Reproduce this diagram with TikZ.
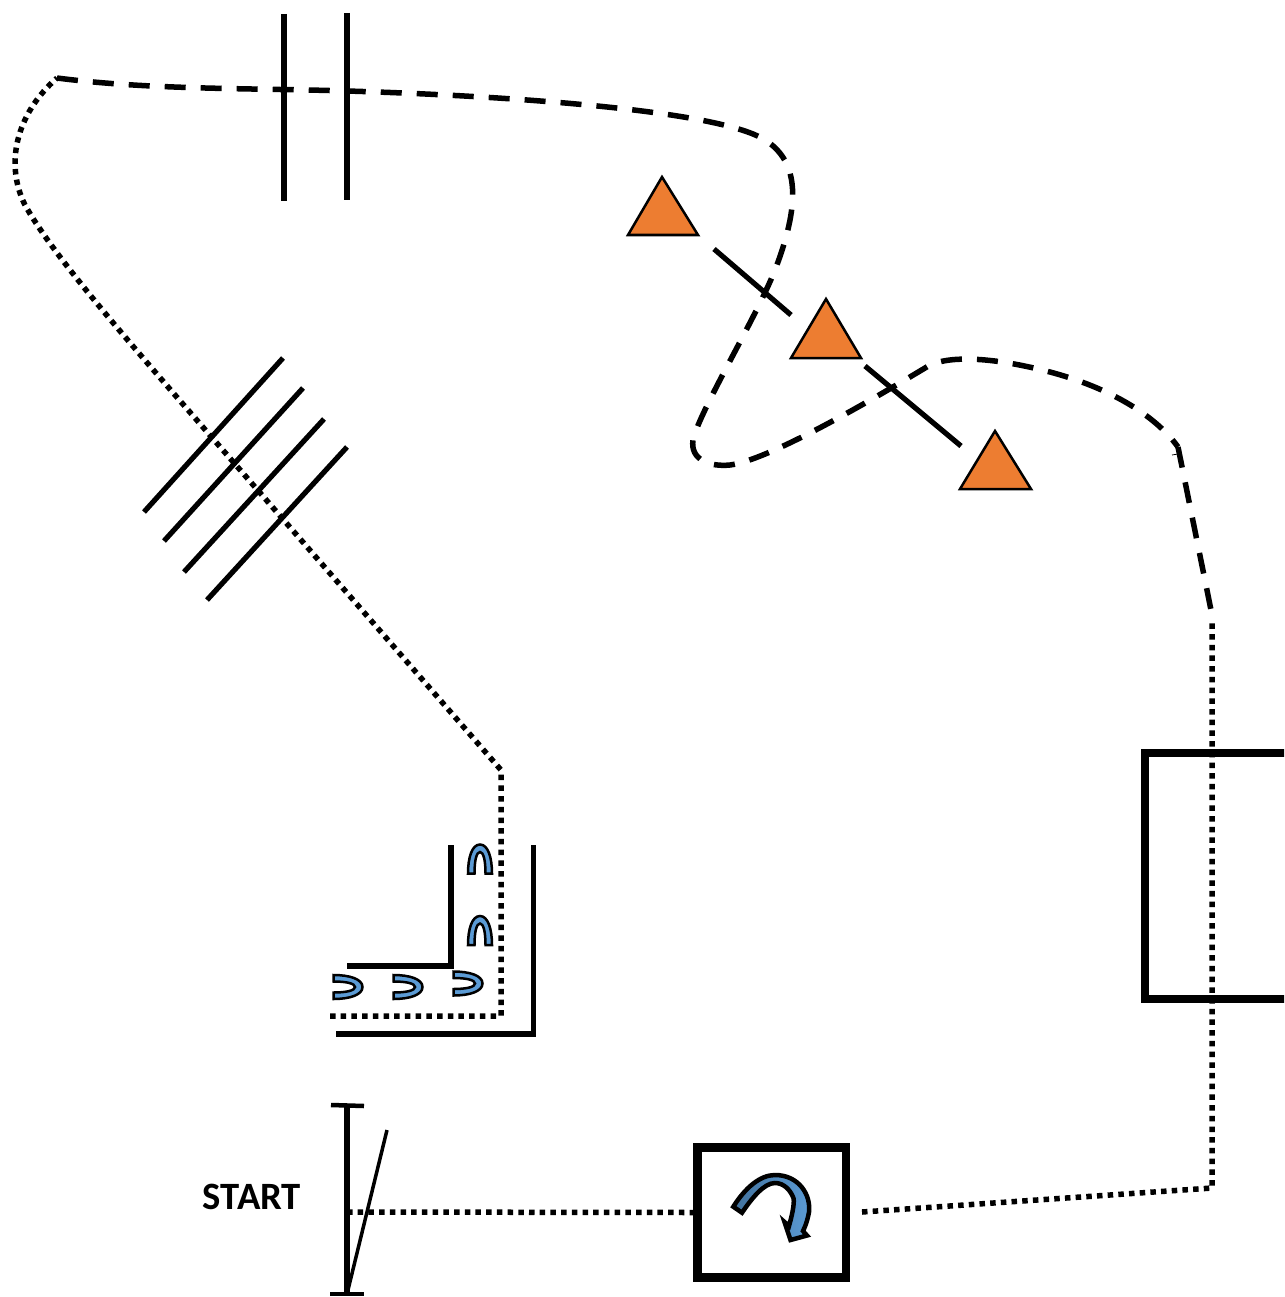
\documentclass[tikz,border=0pt]{standalone}
\usepackage{amsmath}
\usepackage{fontspec}
\usepackage{tikz}
\usepackage{color}
\setmainfont{Carlito}
\definecolor{cupblue}{RGB}{91,155,213}
\definecolor{arrowdark}{RGB}{65,113,156}
\definecolor{prismorange}{RGB}{237,125,49}
\tikzset{
  mirrorcup/.pic={
    \draw [cupline] (-12,0) .. controls (-12,-16) and (-8,-29) .. (0,-29)
      .. controls (8,-29) and (12,-16) .. (12,0) -- (5.5,0)
      .. controls (5.5,-13) and (3.5,-21.5) .. (0,-21.5)
      .. controls (-3.5,-21.5) and (-5.5,-13) .. (-5.5,0) -- cycle;
  }
}
\begin{document}
\begin{tikzpicture}[x=0.01cm,y=-0.01cm]
\tikzstyle{every node}+=[inner sep=0pt]
\tikzstyle{optic}=[line width=0.052cm]
\tikzstyle{thinoptic}=[line width=0.035cm]
\tikzstyle{dotbeam}=[line width=0.055cm,dash pattern=on 0.055cm off 0.052cm]
\tikzstyle{dashbeam}=[line width=0.055cm,dash pattern=on 0.21cm off 0.15cm]
\tikzstyle{prism}=[fill=prismorange,line width=0.025cm,line join=miter]
\tikzstyle{cupline}=[fill=cupblue,line width=0.025cm]
\clip (0,0) rectangle (1284,1297);
% beam path corners
\coordinate (stopper) at (347,1212);
\coordinate (boxout) at (862,1212);
\coordinate (bendlow) at (1212,1188);
\coordinate (bendhigh) at (1212,620);
\coordinate (dashend) at (1212,615);
\coordinate (dashknee) at (1178,447);
\coordinate (turn) at (57,78);
\coordinate (slopetop) at (175,395);
\coordinate (channeltop) at (501,770);
\coordinate (channelcorner) at (501,1016);
\coordinate (channelend) at (330,1016);
% start mirror
\node (startlabel) at (252,1197) {\fontsize{11}{12}\selectfont\bfseries START};
\draw [black,optic] (347,1105) -- (347,1294);
\draw [black,thinoptic,line width=0.045cm] (331,1105) -- (364,1106);
\draw [black,thinoptic,line width=0.045cm] (330,1294) -- (364,1294);
\draw [black,thinoptic] (387,1130) -- (347,1294);
% boxes
\node (rotbox) [draw,black,line width=0.085cm,minimum width=1.485cm,minimum height=1.295cm] at (771.75,1212.5) {};
\node (bigbox) [draw,black,line width=0.08cm,minimum width=1.47cm,minimum height=2.45cm] at (1218.5,876) {};
% beams
\draw [black,dotbeam] (stopper) -- (rotbox.west);
\draw [black,dotbeam] (boxout) -- (bendlow) -- (bendhigh);
\draw [black,dashbeam] (turn) .. controls (150,90) and (250,88) .. (347,91)
  .. controls (480,95) and (715,108) .. (765,140)
  .. controls (800,162) and (800,205) .. (775,270)
  .. controls (755,320) and (700,410) .. (693,440)
  .. controls (690,460) and (710,467) .. (730,465)
  .. controls (770,460) and (880,395) .. (925,368)
  .. controls (942,356) and (985,355) .. (1050,372)
  .. controls (1110,388) and (1155,415) .. (dashknee);
\draw [black,dashbeam] (dashknee) -- (dashend);
\draw [black,line width=0.008cm] (1172,455) -- (1178,454);
\draw [black,dotbeam] (channelend) -- (channelcorner) -- (channeltop) -- (slopetop)
  .. controls (110,320) and (50,250) .. (25,205)
  .. controls (5,165) and (15,115) .. (turn);
% rotator arrow
\draw [black,left color=arrowdark,right color=cupblue,line width=0.045cm,line join=miter,miter limit=10] (733.3,1206.7)
  .. controls (745,1188) and (760,1175) .. (775,1175)
  .. controls (799,1175) and (811,1195) .. (809,1212)
  .. controls (808,1218) and (806,1225) .. (803,1231)
  -- (807,1235.5) -- (790.5,1240) -- (784.5,1222) -- (789,1226)
  .. controls (793,1212) and (795,1200) .. (793,1197)
  .. controls (790,1190) and (784,1183) .. (775,1183)
  .. controls (764,1183) and (752,1198) .. (742,1212.7) -- cycle;
% etalons
\draw [black,optic] (284,14) -- (284,201);
\draw [black,optic] (347,13) -- (347,200);
% grating
\draw [black,optic] (283,358) -- (144,512);
\draw [black,optic] (303,388) -- (164,541);
\draw [black,optic] (324,419) -- (184,572);
\draw [black,optic] (347,447) -- (207,600);
% prisms
\draw [black,optic] (714,249) -- (791,315);
\draw [black,optic] (865,366) -- (961,446);
\draw [prism] (662,177) -- (698,235) -- (628,235) -- cycle;
\draw [prism] (826,299) -- (861,358) -- (791,358) -- cycle;
\draw [prism] (995,431) -- (1031,489) -- (960,489) -- cycle;
% channel
\draw [black,optic] (451,845) -- (451,966) -- (347,966);
\draw [black,optic] (533.5,845) -- (533.5,1034) -- (336,1034);
\pic (cupa) at (480,873.5) {mirrorcup};
\pic (cupb) at (480,945) {mirrorcup};
\pic (cupc) [rotate=-90] at (333.5,987) {mirrorcup};
\pic (cupd) [rotate=-90] at (393.5,987) {mirrorcup};
\pic (cupe) [rotate=-90] at (453.5,983.5) {mirrorcup};
\end{tikzpicture}
\end{document}
